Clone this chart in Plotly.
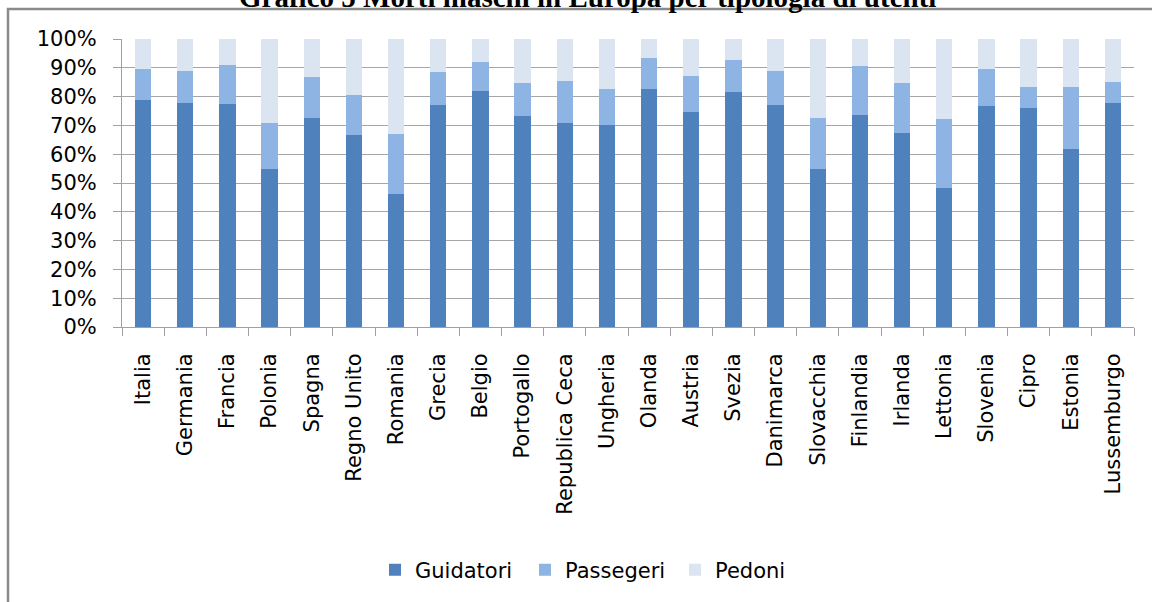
import plotly.graph_objects as go

# Countries on the x axis
paesi = ["Italia", "Germania", "Francia", "Polonia", "Spagna", "Regno Unito",
         "Romania", "Grecia", "Belgio", "Portogallo", "Republica Ceca", "Ungheria",
         "Olanda", "Austria", "Svezia", "Danimarca", "Slovacchia", "Finlandia",
         "Irlanda", "Lettonia", "Slovenia", "Cipro", "Estonia", "Lussemburgo"]

# Share of male road deaths by type of road user (%)
guidatori = [78.8, 77.9, 77.4, 54.8, 72.6, 66.8, 46.3, 77.0, 81.9, 73.4, 70.7, 70.3,
             82.8, 74.8, 81.5, 77.0, 54.8, 73.5, 67.2, 48.1, 76.6, 76.2, 61.9, 77.9]
passegeri = [10.7, 11.1, 13.5, 15.9, 14.2, 13.6, 20.8, 11.5, 10.2, 11.2, 14.7, 12.5,
             10.6, 12.5, 11.1, 12.0, 17.7, 17.2, 17.4, 24.0, 12.9, 7.0, 21.3, 7.2]
pedoni = [10.5, 11.0, 9.1, 29.3, 13.2, 19.6, 32.9, 11.5, 7.9, 15.4, 14.6, 17.2,
          6.6, 12.7, 7.4, 11.0, 27.5, 9.3, 15.4, 27.9, 10.5, 16.8, 16.8, 14.9]

serie = [("Guidatori", guidatori, "#4F81BD"),
         ("Passegeri", passegeri, "#8EB4E3"),
         ("Pedoni", pedoni, "#DBE5F1")]

fig = go.Figure()
for nome, valori, colore in serie:
    fig.add_trace(go.Bar(x=paesi, y=valori, name=nome,
                         marker=dict(color=colore, line=dict(width=0))))

W, H = 1152, 602
L, R, T, B = 122, 18, 39, 275
PW = W - L - R

fig.update_layout(
    width=W, height=H,
    margin=dict(l=L, r=R, t=T, b=B, pad=0),
    barmode="stack",
    bargap=0.613,
    paper_bgcolor="white",
    plot_bgcolor="white",
    font=dict(family="DejaVu Sans", size=21, color="#000000"),
    showlegend=True,
    legend=dict(orientation="h", x=(600 - L) / PW, xanchor="center",
                y=(327 - 570) / 288, yanchor="middle",
                font=dict(family="DejaVu Sans", size=21, color="#000000"),
                traceorder="normal", itemclick=False,
                entrywidth=105, entrywidthmode="pixels"),
    xaxis=dict(
        type="category",
        tickangle=-90,
        tickson="boundaries",
        ticks="outside", ticklen=8, tickcolor="#a0a0a0", tickwidth=1,
        showline=True, linecolor="#a0a0a0", linewidth=1,
        showgrid=False,
        ticklabelstandoff=17,
        tickfont=dict(family="DejaVu Sans", size=21, color="#000000"),
    ),
    yaxis=dict(
        range=[0, 100], dtick=10, ticksuffix="%",
        ticks="outside", ticklen=8, tickcolor="#a0a0a0", tickwidth=1,
        showline=True, linecolor="#a0a0a0", linewidth=1,
        showgrid=True, gridcolor="#a6a6a6", gridwidth=1,
        zeroline=False,
        ticklabelstandoff=12,
        tickfont=dict(family="DejaVu Sans", size=21, color="#000000"),
    ),
)

# Chart title (partly above the page top)
fig.add_annotation(
    text="<b>Grafico 5 Morti maschi in Europa per tipologia di utenti</b>",
    xref="paper", yref="paper",
    x=(587 - L) / PW, y=(327 + 2.7) / 288,
    xanchor="center", yanchor="middle", showarrow=False,
    font=dict(family="Liberation Serif", size=29, color="#000000"),
)

# Chart frame
fig.add_shape(type="rect", xref="paper", yref="paper",
              x0=(8 - L) / PW, x1=(W + 20 - L) / PW,
              y0=(327 - H - 20) / 288, y1=(327 - 9) / 288,
              line=dict(color="#8a8a8a", width=2.5), fillcolor="rgba(0,0,0,0)",
              layer="below")

fig.write_html("out.html")
